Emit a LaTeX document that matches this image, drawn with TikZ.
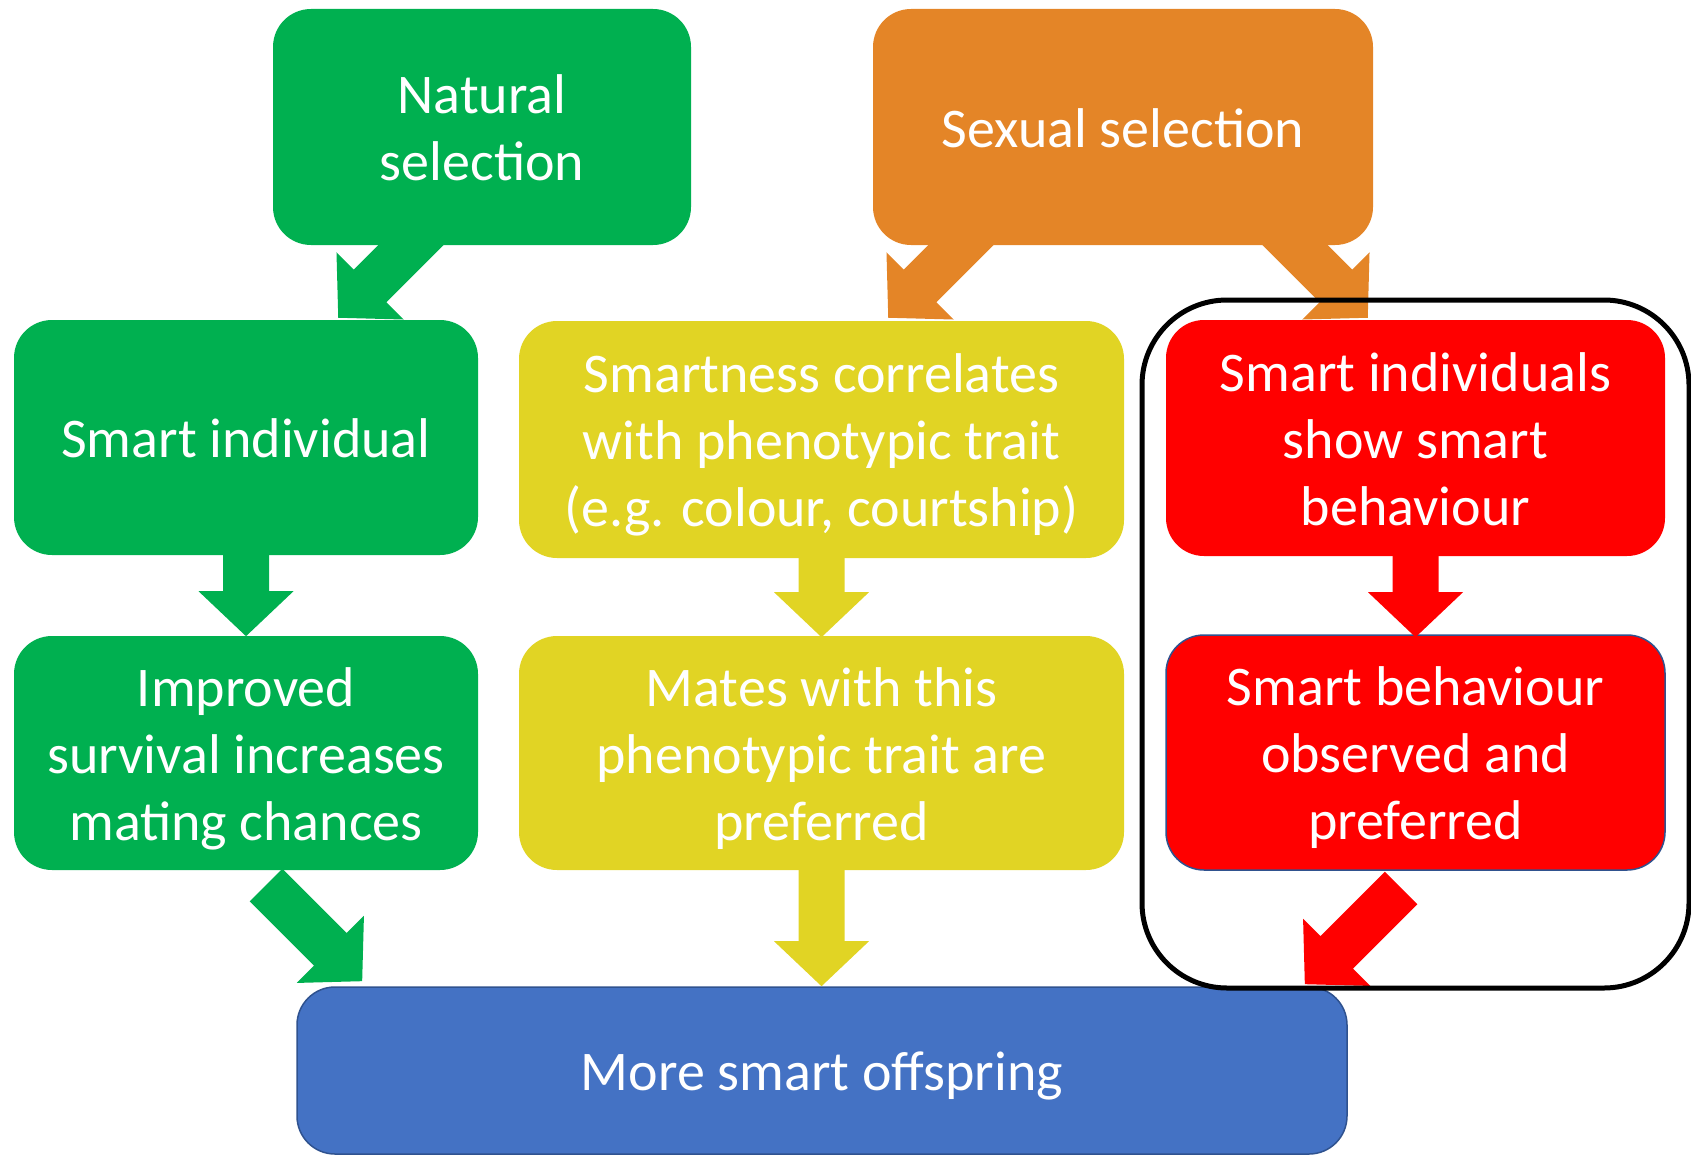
\documentclass[tikz,border=0pt]{standalone}
\usepackage{fontspec}
\setmainfont{Carlito}

\definecolor{gruen}{HTML}{00B050}
\definecolor{orange}{HTML}{E48527}
\definecolor{gelb}{HTML}{E1D424}
\definecolor{rot}{HTML}{FF0000}
\definecolor{blau}{HTML}{4472C4}
\definecolor{dunkelblau}{HTML}{2F528F}

% Zeilenhoehe wie in der Vorlage
\newcommand\zs{\rule[-13.5pt]{0pt}{67pt}}

\tikzset{
  kasten/.style={rounded corners=38pt, inner sep=0pt, text=white, align=center,
    font=\fontsize{56}{67}\selectfont},
  pics/blockpfeil/.style={code={
    \fill (0,-23) -- (#1-45,-23) -- (#1-45,-47.5) -- (#1,0) -- (#1-45,47.5)
      -- (#1-45,23) -- (0,23) -- cycle;
  }},
}

\begin{document}
\begin{tikzpicture}[x=1pt, y=-1pt]
  \useasboundingbox (0,0) rectangle (1691,1156);

  % Obere Reihe
  \node[kasten, fill=gruen, minimum width=418pt, minimum height=236pt] (nat) at (482,127) {\zs Natural\\selection\zs};
  \node[kasten, fill=orange, minimum width=500pt, minimum height=236pt] (sex) at (1123,127) {\zs Sexual selection\zs};

  % Mittlere Reihe
  \node[kasten, fill=gruen, minimum width=464pt, minimum height=235pt] (smart) at (246,437.5) {\zs Smart individual\zs};
  \node[kasten, fill=gelb, minimum width=605pt, minimum height=237pt] (korr) at (821.5,439.5) {\zs Smartness correlates\\with phenotypic trait\\(e.g. colour, courtship)\zs};
  \node[kasten, fill=rot, minimum width=499pt, minimum height=236pt] (zeigen) at (1415.5,438) {\zs Smart individuals\\show smart\\behaviour\zs};

  % Untere Reihe
  \node[kasten, fill=gruen, minimum width=464pt, minimum height=234pt] (leben) at (246,753) {\zs Improved\\survival increases\\mating chances\zs};
  \node[kasten, fill=gelb, minimum width=605pt, minimum height=234pt] (partner) at (821.5,753) {\zs Mates with this\\phenotypic trait are\\preferred\zs};
  \node[kasten, fill=rot, draw=dunkelblau, line width=1.5pt, minimum width=499pt, minimum height=235pt] (beob) at (1415.5,752.5) {\zs Smart behaviour\\observed and\\preferred\zs};

  % Ergebnis
  \node[kasten, fill=blau, draw=dunkelblau, line width=1.5pt, minimum width=1050pt, minimum height=167pt] (mehr) at (822,1070.5) {\zs More smart offspring\zs};

  % Pfeile nach unten
  \pic[color=gruen, rotate=-90] at (smart.south) {blockpfeil=81};
  \pic[color=gelb, rotate=-90] at (korr.south) {blockpfeil=79};
  \pic[color=rot, rotate=-90] at (zeigen.south) {blockpfeil=81};
  \pic[color=gelb, rotate=-90] at (partner.south) {blockpfeil=116};

  % Schraege Pfeile
  \pic[color=gruen, rotate=-135] at (433,223) {blockpfeil=134};
  \pic[color=orange, rotate=-135] at (983,223) {blockpfeil=134};
  \pic[color=orange, rotate=-45] at (1273,223) {blockpfeil=134};
  \pic[color=gruen, rotate=-45] at (266,885) {blockpfeil=136};
  \pic[color=rot, rotate=-135] at (1401,888) {blockpfeil=136};

  % Rahmen um das Verhalten
  \node[draw, line width=5pt, rounded corners=85pt, minimum width=547pt, minimum height=688pt] (rahmen) at (1415.5,644) {};
\end{tikzpicture}
\end{document}
